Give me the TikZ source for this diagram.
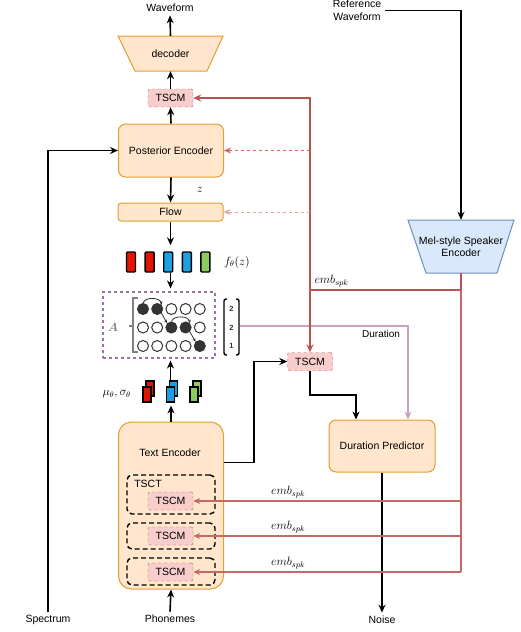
\documentclass[tikz,border=0pt]{standalone}
\usepackage[no-math]{fontspec}
\setmainfont{Liberation Sans}
\usepackage{amsmath}
\usepackage{xcolor}
\usetikzlibrary{arrows.meta}
\usetikzlibrary{positioning}

\definecolor{orangefill}{HTML}{FFE6CC}
\definecolor{orangedraw}{HTML}{E0A030}
\definecolor{tscmfill}{HTML}{F8CECC}
\definecolor{tscmdraw}{HTML}{B85450}
\definecolor{melfill}{HTML}{DAE8FC}
\definecolor{meldraw}{HTML}{6C8EBF}
\definecolor{spkred}{HTML}{B85450}
\definecolor{spkthinred}{HTML}{C46A66}
\definecolor{spkdash}{HTML}{D9625E}
\definecolor{spklight}{HTML}{E8A2A0}
\definecolor{durpink}{HTML}{CDA2BE}
\definecolor{apurple}{HTML}{9673A6}
\definecolor{barred}{HTML}{E51400}
\definecolor{barblue}{HTML}{1BA1E2}
\definecolor{bargreen}{HTML}{8CCB5E}
\definecolor{dotgray}{HTML}{333333}

\begin{document}
\begin{tikzpicture}[x=1pt,y=-1pt,
    >={Stealth[length=8pt,width=7pt]},
    font=\fontsize{10.5}{12.5}\selectfont,
    line/.style={line width=1.6pt},
    block/.style={draw=orangedraw, fill=orangefill, line width=1pt, rounded corners=7pt, minimum width=105pt},
    anchorbox/.style={inner sep=0pt, align=center},
    tscm/.style={draw=tscmdraw, fill=tscmfill, dashed, rounded corners=2pt, minimum width=45pt, minimum height=18pt, inner sep=0pt},
    tsct/.style={draw, line width=1.4pt, dash pattern=on 5pt off 3pt, rounded corners=5pt, minimum width=88pt},
    spk/.style={draw=spkred, line width=1.7pt},
    spkthin/.style={draw=spkthinred, line width=1.1pt, >={Stealth[length=7pt,width=6pt]}},
    spkdashed/.style={draw=spkdash, line width=1pt, dashed, >={Stealth[length=7pt,width=6pt]}},
    fbar/.style={draw, line width=1.4pt, rounded corners=1pt, minimum width=9pt, minimum height=20pt, inner sep=0pt},
    msbar/.style={draw, line width=1.1pt, minimum width=8pt, minimum height=15pt, inner sep=0pt},
    dot/.style={circle, draw=dotgray, line width=1pt, minimum size=11pt, inner sep=0pt},
    dotarr/.style={draw=dotgray, line width=0.8pt, -{Stealth[length=3.5pt,width=3pt]}},
    mathlbl/.style={font=\fontsize{11.5}{13}\selectfont}]
    \useasboundingbox (0,0) rectangle (521,632);

    % Textes d'entree et de sortie
    \node (wave) at (170,8) {Waveform};
    \node[align=center] (ref) at (357,10.5) {Reference\\Waveform};
    \node (spec) at (48,620) {Spectrum};
    \node (phon) at (170,619) {Phonemes};
    \node (noise) at (382,620) {Noise};

    % Trapezes (decoder et encodeur du locuteur)
    \draw[draw=orangedraw, fill=orangefill, line width=1pt] (118,36) -- (223,36) -- (207,71) -- (135,71) -- cycle;
    \node[anchorbox, minimum width=72pt, minimum height=35pt] (dec) at (170.5,53.5) {decoder};
    \draw[draw=meldraw, fill=melfill, line width=1pt] (408,220) -- (514,220) -- (497,273) -- (426,273) -- cycle;
    \node[anchorbox, minimum width=71pt, minimum height=53pt] (mel) at (461,246.5) {Mel-style Speaker\\Encoder};

    % Blocs principaux
    \node[tscm] (tscmT) at (170.5,98) {TSCM};
    \node[block, minimum height=53pt] (post) at (171,150.5) {Posterior Encoder};
    \node[block, rounded corners=3pt, minimum height=18pt, inner sep=0pt] (flow) at (170.5,212) {Flow};
    \node[tscm] (tscmD) at (310,361.5) {TSCM};
    \node[block, minimum width=106pt, minimum height=52pt] (dp) at (382,446) {Duration Predictor};

    % Text Encoder avec ses trois TSCT
    \node[block, rounded corners=13pt, minimum height=167pt] (te) at (171,505.5) {};
    \node (tetitle) at (170,453) {Text Encoder};
    \node[tsct, minimum height=39pt] (tsct1) at (171,494.5) {};
    \node[tsct, minimum height=26pt] (tsct2) at (171,536) {};
    \node[tsct, minimum height=27pt] (tsct3) at (171,571.5) {};
    \node (tsctlbl) at (148,484) {TSCT};
    \node[tscm] (tscm1) at (170.5,501) {TSCM};
    \node[tscm] (tscm2) at (170.5,536) {TSCM};
    \node[tscm] (tscm3) at (170.5,572) {TSCM};

    % Sortie du flow f(z)
    \foreach \c [count=\i] in {barred,barred,barblue,barblue,bargreen}
        \node[fbar, fill=\c] (b\i) at (131+18.6*\i-18.6,262) {};
    \node[mathlbl, right=10pt of b5] (fz) {$f_\theta(z)$};

    % Alignement A
    \node[draw=apurple, line width=1.1pt, dashed, minimum width=112pt, minimum height=66pt] (amat) at (159,325) {};
    \node[text=gray, font=\fontsize{13}{15}\selectfont] (alabel) at (113,327) {$\boldsymbol{A}$};
    \draw[gray, line width=1.3pt] (138,298) -- (133,298) -- (133,352) -- (138,352);
    \draw[gray, line width=1.3pt] (133,326) -- (129,326);
    \foreach \i/\r in {0/0,1/0,2/1,3/1,4/2}
        \foreach \j in {0,1,2} {
            \ifnum\j=\r \def\dotcol{dotgray}\else\def\dotcol{white}\fi
            \node[dot, fill=\dotcol] (c\i\j) at (143+14.2*\i,309+18.5*\j) {};
        }
    \draw[dotarr] (c00.north) to[bend left=75] (c10.north east);
    \draw[dotarr] (c10.south east) -- (c21.north west);
    \draw[dotarr] (c21.north) to[bend left=75] (c31.north east);
    \draw[dotarr] (c31.south east) -- (c42.north west);

    % Durees
    \draw[line width=1.4pt, rounded corners=2pt] (227,299) -- (224,299) -- (224,355) -- (227,355);
    \draw[line width=1.4pt, rounded corners=2pt] (236,299) -- (239,299) -- (239,355) -- (236,355);
    \foreach \v [count=\k from 0] in {2,2,1}
        \node[font=\fontsize{7.5}{8}\bfseries\selectfont, text=dotgray] (n\k) at (231.5,309+18.5*\k) {\v};
    \coordinate (dur) at (239.5,326);

    % mu, sigma
    \foreach \c [count=\i] in {barred,barblue,bargreen} {
        \node[msbar, fill=\c] (msb\i) at (126.5+23.5*\i,388.5) {};
        \node[msbar, fill=\c] (ms\i) at (123.5+23.5*\i,394.5) {};
    }
    \node[mathlbl, left=8pt of ms1] (mslbl) {$\mu_\theta, \sigma_\theta$};

    % Fleches noires
    \draw[line,->] (dec.north) -- (wave.south);
    \draw[line,->] (tscmT.north) -- (dec.south);
    \draw[line,->] (post.north) -- (tscmT.south);
    \draw[line,->] (post.south) -- node[mathlbl, right=22pt] (zlbl) {$z$} (flow.north);
    \draw[line,->,shorten >=6pt] (flow.south) -- (flow.south |- b3.north);
    \draw[line,->,shorten >=3pt] (flow.south |- b3.south) -- (flow.south |- amat.north);
    \draw[line,->,shorten >=2pt] (tscmT.south |- msb2.north) -- (tscmT.south |- amat.south);
    \draw[line,->,shorten >=3pt] (te.north) -- (te.north |- ms2.south);
    \draw[line,->] (spec.north) |- (post.west);
    \draw[line,->] (phon.north) -- (te.south);
    \draw[line,->] (ref.east) -| (mel.north);
    \draw[line,->] (dp.south) -- (noise.north);
    \draw[line,->] (te.39) -- ++(30,0) |- (tscmD.west);
    \draw[line,->] (tscmD.south) -- ++(0,24) -| ([xshift=-26pt]dp.north);

    % Duree vers le predicteur
    \draw[durpink, line width=1.5pt, ->] (dur) -| node[pos=0.42, below, font=\fontsize{10}{12}\selectfont, text=black] (durlbl) {Duration} ([xshift=26pt]dp.north);

    % Embedding du locuteur
    \draw[spk] (mel.south) -- ++(0,17) coordinate (spkR) -- (spkR -| tscmD.north) coordinate (spkL);
    \draw[spk,->] (spkL) |- (tscmT.east);
    \draw[spk,->] (spkL) -- (tscmD.north);
    \node[mathlbl, above right=0pt and 1pt of spkL] (embtop) {$emb_{spk}$};
    \draw[spkdashed,->] (post.east -| spkL) -- (post.east);
    \draw[spkdashed,->,draw=spklight] (flow.east -| spkL) -- (flow.east);
    \draw[spkthin] (spkR) -- (tscm3.east -| spkR);
    \foreach \n in {1,2,3}
        \draw[spkthin,->] (tscm\n.east -| spkR) -- node[mathlbl, pos=0.645, above=-1pt] (emb\n) {$emb_{spk}$} (tscm\n.east);
\end{tikzpicture}
\end{document}
